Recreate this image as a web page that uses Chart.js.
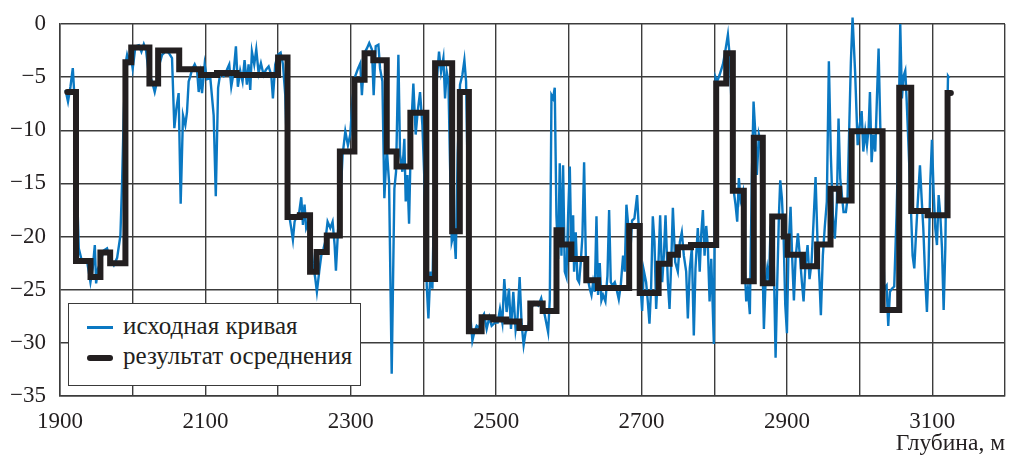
<!DOCTYPE html>
<html>
<head>
<meta charset="utf-8">
<script src="https://cdn.jsdelivr.net/npm/chart.js@4.4.1/dist/chart.umd.min.js"></script>
<style>
  body { margin: 0; background: #fff; }
  #wrap { position: relative; width: 1010px; height: 458px; }
  #legend { position: absolute; left: 68px; top: 303px; width: 293px; height: 83px;
            border: 1.5px solid #3a3a3a; background: #fff; box-sizing: border-box; }
  .item { position: absolute; left: 54px; font: 25px "Liberation Serif", "Times New Roman", serif;
          color: #231f20; line-height: 30px; white-space: nowrap; }
  .swatch { position: absolute; left: 18px; width: 26px; }
</style>
</head>
<body>
<div id="wrap">
  <canvas id="chart" width="1010" height="458"></canvas>
  <div id="legend">
    <div class="swatch" style="top:22px;height:2.5px;background:#0a78c2"></div>
    <div class="item" style="top:7px">исходная кривая</div>
    <div class="swatch" style="top:51px;height:6px;border-radius:3px;background:#231f20"></div>
    <div class="item" style="top:37px">результат осреднения</div>
  </div>
</div>
<script>
// исходная кривая (depth, m / value)
var rawDepth = [
  1907.6, 1911, 1914.4, 1917.6, 1919.5, 1925.8, 1930.4, 1937, 1941.9, 1945,
  1947.9, 1949.7, 1952.4, 1955.6, 1960.2, 1964.7, 1969.4, 1974, 1978.6, 1983.1,
  1985.4, 1987.7, 1990, 1992.3, 1994.6, 1996.9, 2000, 2003.8, 2008.4, 2012,
  2015.3, 2018.4, 2022, 2026.6, 2030.3, 2033.5, 2036.7, 2040.4, 2045, 2049.5,
  2054.1, 2057.3, 2060, 2063.2, 2066, 2069.2, 2072.4, 2074.7, 2077, 2079.3,
  2081.6, 2085.3, 2088.5, 2090.8, 2093.1, 2095.4, 2099, 2102.2, 2106.8, 2111.4,
  2114.3, 2117.5, 2120.5, 2125.1, 2129.6, 2132.8, 2135.6, 2138.8, 2142, 2144.7,
  2147.9, 2151.1, 2153.9, 2157.1, 2159.4, 2161.7, 2164, 2167.2, 2170, 2173.2,
  2176.4, 2180.1, 2183.3, 2187, 2190.6, 2192.9, 2196.1, 2199.8, 2203.5, 2206.7,
  2209.9, 2212.1, 2215.3, 2218.1, 2220.4, 2222.7, 2225.9, 2229.1, 2231.9, 2234.2,
  2236.4, 2238.7, 2241.9, 2245.1, 2247.9, 2251.1, 2253.4, 2256.6, 2259.4, 2262.6,
  2264.9, 2268.1, 2271.8, 2275, 2277.8, 2279.6, 2282.4, 2285.6, 2288.8, 2292.5,
  2296.1, 2299.3, 2302.5, 2306.2, 2309.9, 2313.1, 2315.3, 2319, 2322.2, 2325.4,
  2329.1, 2331.5, 2334.3, 2338, 2340.3, 2343.5, 2346.2, 2349.5, 2352.7, 2356.3,
  2360, 2362.3, 2365.5, 2367.8, 2371, 2373.7, 2375.6, 2377.9, 2380.2, 2382.9,
  2386.1, 2389.3, 2392.1, 2395.3, 2398.5, 2402.2, 2404.5, 2406.8, 2409.5, 2412.3,
  2415, 2418.2, 2421.4, 2424.2, 2427.4, 2429.7, 2432, 2434.3, 2436.6, 2438.9,
  2442.1, 2444.4, 2447.1, 2450.3, 2453.5, 2456.3, 2458.6, 2461.8, 2464.5, 2467.3,
  2470, 2473.2, 2476.4, 2480.1, 2483.3, 2486.9, 2490.6, 2493.8, 2498.4, 2502.1,
  2505.3, 2508.5, 2511.2, 2514.4, 2517.6, 2520.4, 2523.6, 2526.8, 2529.5, 2532.3,
  2535, 2537.8, 2540.5, 2544.2, 2547.9, 2552.5, 2558, 2562, 2566.9, 2571.5,
  2573.8, 2576.1, 2578.3, 2580.6, 2582.9, 2585.2, 2587.5, 2589.8, 2592.1, 2594.4,
  2596.7, 2599, 2601.3, 2603.6, 2605.9, 2607.2, 2609.5, 2611.8, 2614.1, 2616.4,
  2618.7, 2621, 2623.3, 2625.6, 2628.8, 2631.1, 2633.4, 2635.7, 2638, 2640.2,
  2642.5, 2644.8, 2647.1, 2650.3, 2653.1, 2655.4, 2657.7, 2660, 2663.2, 2665.5,
  2668.7, 2671.4, 2674.6, 2676.9, 2679.2, 2681.5, 2683.8, 2687, 2690.2, 2693.9,
  2696.2, 2698.5, 2700.8, 2703.1, 2706.3, 2708.6, 2710.9, 2713.2, 2715.5, 2717.8,
  2720.1, 2723.3, 2725.6, 2728.4, 2730.7, 2733, 2736.2, 2738.5, 2740.8, 2743.1,
  2746.3, 2749.9, 2752.7, 2755.4, 2758.2, 2761.4, 2763.7, 2766.4, 2769.2, 2771.9,
  2774.2, 2777.4, 2780, 2782, 2784.4, 2786.7, 2789, 2791.3, 2793.6, 2795.9,
  2799.5, 2801.8, 2804.1, 2807.3, 2811.9, 2815.1, 2818.8, 2821.5, 2824.3, 2827,
  2829.3, 2831.6, 2833.9, 2836.2, 2839.4, 2841.7, 2844, 2846.3, 2849, 2851.8,
  2854.1, 2856.4, 2858.7, 2861.4, 2863.7, 2866, 2868.3, 2870.6, 2872.9, 2875.2,
  2877.5, 2879.8, 2882.1, 2884.4, 2886.7, 2889, 2890.8, 2893.1, 2895.4, 2897.7,
  2900, 2902.2, 2905, 2907.3, 2909.6, 2911.9, 2915.1, 2917.8, 2920.6, 2922.9,
  2925.2, 2928.4, 2931.1, 2933.9, 2936.6, 2939.4, 2942.1, 2944.9, 2946.7, 2949.4,
  2952.2, 2954.9, 2957.7, 2960.4, 2963.2, 2965.9, 2968.7, 2971, 2973.3, 2975.6,
  2977.9, 2981.1, 2983.4, 2985.7, 2988, 2990.3, 2993.8, 2997.3, 2999.6, 3002.8,
  3005.1, 3007.8, 3010.1, 3012.4, 3014.2, 3016.5, 3018.8, 3021.5, 3023.8, 3026.1,
  3028.4, 3030.7, 3033.9, 3037.1, 3039.4, 3041.7, 3044.4, 3047.6, 3050.8, 3053.6,
  3055.9, 3058.2, 3060.5, 3062.8, 3064.6, 3067.4, 3070.6, 3072.9, 3075.2, 3077.5,
  3079.8, 3083, 3085.3, 3087.6, 3090.3, 3092.6, 3094.9, 3097.2, 3099.5, 3101.8,
  3104.1, 3106.4, 3108.7, 3111, 3113.3, 3115.6, 3117.9, 3119.7, 3121.6, 3123.4
];
var rawValue = [
  -6.2, -7.3, -5.9, -4.15, -6.4, -21.1, -22.4, -22.2, -24.3, -23.0,
  -20.8, -24.4, -23.0, -22.4, -21.3, -21.1, -22.2, -22.7, -22.0, -19.9,
  -14.9, -8.5, -3.8, -2.9, -3.5, -2.7, -4.2, -2.1, -2.0, -2.6,
  -1.9, -2.5, -4.6, -5.4, -6.4, -5.4, -3.8, -2.9, -2.6, -2.7,
  -3.2, -9.8, -8.0, -6.5, -16.9, -8.6, -9.5, -8.3, -5.4, -4.9,
  -4.3, -3.8, -4.3, -6.4, -4.9, -6.5, -3.8, -5.2, -5.1, -8.6,
  -16.2, -6.0, -4.6, -4.9, -4.3, -3.8, -5.9, -4.6, -2.1, -5.9,
  -4.4, -5.4, -3.4, -5.7, -3.8, -6.2, -2.6, -3.8, -2.4, -4.6,
  -3.7, -4.8, -4.3, -4.0, -4.8, -7.0, -3.8, -2.9, -2.7, -3.8,
  -6.7, -11.7, -18.0, -19.2, -20.3, -18.6, -18.0, -17.7, -16.3, -18.9,
  -17.0, -19.2, -18.6, -20.5, -22.5, -23.9, -25.2, -23.3, -21.8, -21.1,
  -20.5, -18.6, -19.2, -18.6, -20.8, -23.2, -19.5, -16.7, -12.3, -10.1,
  -11.4, -10.4, -7.0, -4.9, -4.2, -3.7, -6.7, -2.7, -2.3, -1.8,
  -2.4, -6.7, -2.1, -1.95, -4.2, -5.4, -16.4, -11.7, -14.9, -32.9,
  -15.5, -13.9, -2.9, -12.3, -13.9, -10.8, -16.7, -14.2, -18.8, -10.1,
  -5.6, -10.4, -8.2, -6.4, -9.5, -16.4, -24.6, -27.7, -23.3, -24.9,
  -14.9, -5.4, -2.6, -4.5, -3.2, -7.0, -4.5, -5.4, -13.3, -20.5,
  -19.6, -22.1, -12.3, -5.7, -4.8, -3.4, -5.4, -18.0, -27.4, -29.8,
  -29.0, -28.4, -28.6, -27.7, -27.3, -28.7, -27.6, -28.4, -28.1, -28.1,
  -26.8, -28.1, -24.0, -27.1, -24.9, -28.7, -25.2, -28.8, -27.6, -23.8,
  -28.2, -30.2, -29.0, -28.5, -26.8, -26.2, -26.5, -25.8, -27.4, -29.0,
  -25.9, -6.7, -7.0, -6.0, -18.0, -22.1, -13.1, -21.8, -13.3, -23.3,
  -23.8, -18.0, -13.4, -22.1, -18.0, -23.3, -19.6, -24.0, -24.3, -22.4,
  -19.9, -13.0, -21.8, -23.8, -24.9, -25.5, -24.3, -25.2, -18.1, -25.5,
  -22.5, -26.0, -25.5, -26.1, -23.7, -17.5, -24.3, -24.6, -24.3, -24.9,
  -25.9, -24.6, -21.8, -23.3, -17.0, -18.8, -22.4, -18.5, -18.3, -16.1,
  -19.2, -24.4, -27.0, -23.2, -24.3, -26.1, -28.2, -24.7, -18.1, -20.5,
  -26.8, -22.4, -18.0, -24.3, -21.8, -18.0, -24.3, -26.8, -22.5, -17.3,
  -22.4, -23.3, -20.5, -19.6, -21.8, -23.3, -27.7, -23.0, -21.1, -29.3,
  -23.0, -19.2, -23.3, -19.9, -17.5, -21.8, -19.0, -21.1, -26.1, -22.1,
  -30.1, -5.0, -5.4, -4.8, -3.8, -2.6, -1.0, -3.2, -8.6, -15.8,
  -17.0, -18.6, -14.5, -16.6, -15.8, -22.4, -26.1, -24.9, -27.3, -14.2,
  -7.3, -10.1, -14.2, -10.4, -11.1, -21.1, -28.7, -24.3, -23.0, -24.3,
  -19.2, -18.0, -23.0, -31.4, -24.3, -18.0, -14.7, -16.4, -19.9, -26.4,
  -29.1, -21.1, -17.2, -22.1, -26.0, -22.1, -19.7, -21.8, -24.3, -26.1,
  -23.0, -20.8, -24.0, -22.4, -18.6, -14.4, -20.5, -24.3, -27.4, -21.8,
  -19.0, -16.7, -3.5, -12.3, -18.0, -20.2, -16.7, -8.9, -14.5, -16.1,
  -17.7, -17.7, -16.4, -9.8, -3.5, 0.6, -4.5, -11.4, -9.8, -8.2,
  -12.0, -10.1, -11.4, -9.8, -6.4, -13.0, -10.4, -12.0, -7.0, -2.3,
  -9.5, -14.9, -24.9, -24.6, -28.4, -25.2, -24.9, -24.7, -18.0, -10.1,
  0.0, -7.0, -4.9, -4.4, -7.0, -11.7, -17.4, -21.8, -23.0, -19.9,
  -17.0, -13.3, -16.4, -19.2, -24.0, -27.1, -22.7, -14.9, -10.9, -15.8,
  -19.2, -20.8, -16.1, -18.0, -21.1, -26.9, -21.1, -11.7, -4.9, -5.1
];

// результат осреднения: start depth of each interval and its level
var stepDepth = [
  1910, 1922, 1942, 1955.6, 1969, 1990, 1998, 2023, 2035, 2064,
  2094, 2116, 2143, 2200, 2213, 2230, 2244, 2253, 2267, 2285,
  2305, 2319, 2331, 2349.5, 2363, 2382, 2404, 2416, 2439.5, 2450,
  2462.5, 2480, 2496, 2514, 2532, 2547, 2564, 2583, 2590, 2603.5,
  2624, 2640, 2683, 2697.5, 2723.5, 2738.6, 2750, 2768, 2802.7, 2816.5,
  2825.6, 2840.7, 2854.4, 2866.8, 2879.7, 2895.6, 2901, 2922, 2941.5, 2960,
  2972, 2989, 3031.6, 3054.5, 3071, 3093.5, 3121, 3125.5
];
var stepValue = [
  -6.4, -22.3, -23.8, -21.5, -22.5, -3.6, -2.2, -5.6, -2.5, -4.25,
  -4.8, -4.6, -4.8, -3.15, -18.15, -18.0, -23.3, -21.45, -19.9, -12.0,
  -5.25, -2.75, -3.4, -12.0, -13.4, -8.35, -24.0, -3.7, -19.5, -6.4,
  -28.9, -27.6, -27.8, -28.0, -28.6, -26.3, -27.0, -19.4, -20.75, -22.1,
  -24.1, -24.85, -19.0, -25.3, -22.55, -21.7, -21.0, -20.8, -5.6, -2.75,
  -15.7, -24.2, -10.7, -24.4, -18.1, -20.0, -21.7, -22.8, -20.75, -15.5,
  -16.6, -10.1, -26.9, -6.0, -17.6, -18.0, -6.5, -6.5
];

var xMin = 1900, xMax = 3200, xStep = 100, xLabelStep = 200;
var yMin = -35, yMax = 0, yStep = 5;
var axisTitle = 'Глубина, м';

function toPoints(xs, ys) {
    var pts = [];
    for (var i = 0; i < xs.length; i++) pts.push({x: xs[i], y: ys[i]});
    return pts;
}

var serif = '"Liberation Serif", "Times New Roman", serif';
var ink = '#231f20';
var gridColor = '#3c3c3c';

new Chart(document.getElementById('chart'), {
    type: 'line',
    data: {
        datasets: [{
            label: 'результат осреднения',
            data: toPoints(stepDepth, stepValue),
            stepped: 'before',
            borderColor: ink,
            borderWidth: 6,
            borderCapStyle: 'round',
            borderJoinStyle: 'miter',
            pointRadius: 0,
            order: 1
        }, {
            label: 'исходная кривая',
            data: toPoints(rawDepth, rawValue),
            borderColor: '#0a78c2',
            borderWidth: 2.4,
            tension: 0,
            pointRadius: 0,
            clip: 10,
            order: 2
        }]
    },
    options: {
        responsive: false,
        animation: false,
        devicePixelRatio: 1,
        layout: {padding: {left: 0, right: 5, top: 24, bottom: 0}},
        plugins: {legend: {display: false}, tooltip: {enabled: false}},
        scales: {
            x: {
                type: 'linear',
                min: xMin, max: xMax,
                afterFit: function (s) { s.height = 62; s.paddingLeft = 0; s.paddingRight = 0; },
                ticks: {
                    stepSize: xStep, autoSkip: false, maxRotation: 0,
                    padding: 12, color: ink,
                    font: {family: serif, size: 23},
                    callback: function (v) {
                        return ((v - xMin) % xLabelStep === 0 && v < xMax) ? String(v) : '';
                    }
                },
                grid: {color: gridColor, lineWidth: 1.4, drawTicks: false},
                border: {color: gridColor, width: 1.5},
                title: {
                    display: true, text: axisTitle, align: 'end', color: ink,
                    font: {family: serif, size: 23.5}, padding: {top: 0, bottom: 0}
                }
            },
            y: {
                min: yMin, max: yMax,
                afterFit: function (s) { s.width = 60; s.paddingTop = 0; s.paddingBottom = 0; },
                ticks: {
                    stepSize: yStep, padding: 14, color: ink,
                    font: {family: serif, size: 23},
                    callback: function (v) { return String(v).replace('-', '\u2212'); }
                },
                grid: {color: gridColor, lineWidth: 1.4, drawTicks: false},
                border: {color: gridColor, width: 1.5}
            }
        }
    }
});
</script>
</body>
</html>
